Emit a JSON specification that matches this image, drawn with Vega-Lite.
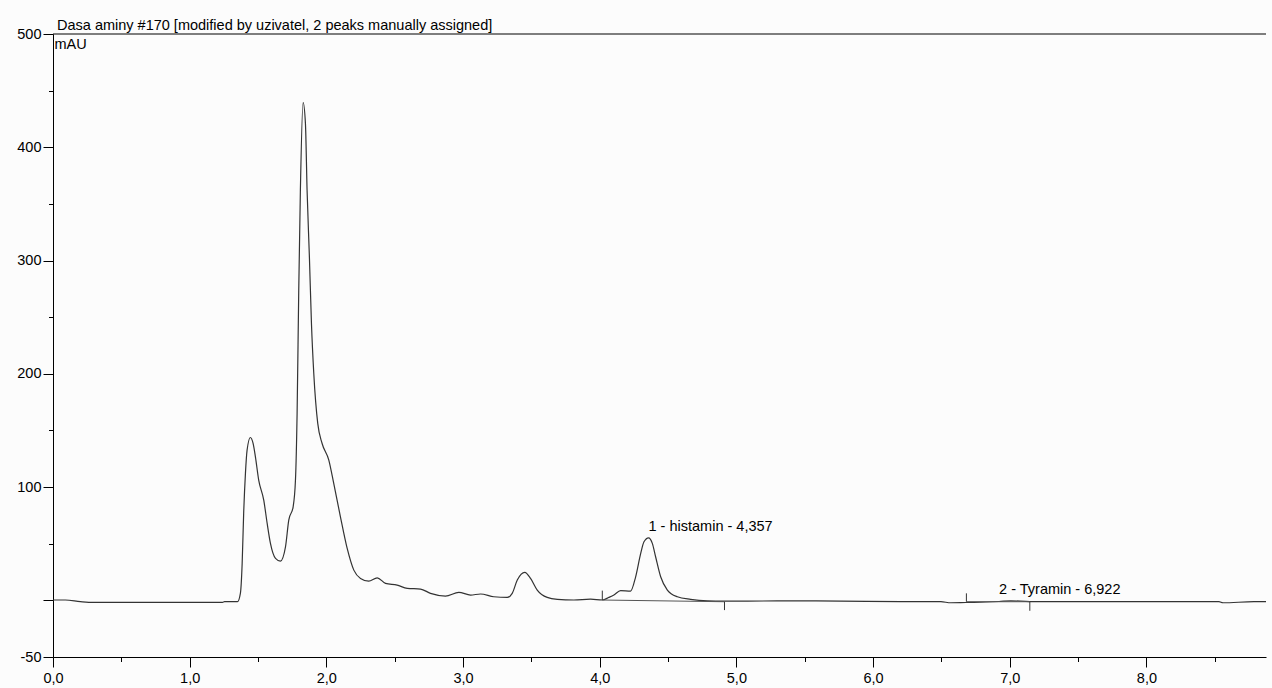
{
  "$schema": "https://vega.github.io/schema/vega-lite/v6.json",
  "width": 1213,
  "height": 623,
  "autosize": {"type": "none"},
  "padding": {"left": 53, "top": 34, "right": 6, "bottom": 31},
  "background": "#fcfcfc",
  "title": {
    "text": "Dasa aminy #170 [modified by uzivatel, 2 peaks manually assigned]",
    "anchor": "start",
    "frame": "group",
    "dx": 4,
    "offset": -18,
    "baseline": "alphabetic",
    "font": "Liberation Sans",
    "fontSize": 14.5,
    "fontWeight": "normal",
    "color": "#000000"
  },
  "config": {
    "view": {"stroke": null},
    "font": "Liberation Sans",
    "axis": {
      "grid": false,
      "domainColor": "#000000",
      "tickColor": "#000000",
      "labelColor": "#000000",
      "labelFont": "Liberation Sans",
      "labelFontSize": 14.5,
      "labelOverlap": false,
      "labelFlush": false
    }
  },
  "datasets": {
    "trace": [
      {"t": 0.0, "v": 0.3}, {"t": 0.09, "v": 0.3}, {"t": 0.2, "v": -1.1}, {"t": 0.295, "v": -1.8},
      {"t": 0.71, "v": -1.8}, {"t": 1.24, "v": -1.8}, {"t": 1.255, "v": -1.2}, {"t": 1.35, "v": -1.2},
      {"t": 1.371, "v": 6.2}, {"t": 1.384, "v": 32.6}, {"t": 1.395, "v": 76.8}, {"t": 1.408, "v": 112.1},
      {"t": 1.42, "v": 132.6}, {"t": 1.444, "v": 143.8}, {"t": 1.464, "v": 138.5}, {"t": 1.481, "v": 126.7},
      {"t": 1.505, "v": 106.2}, {"t": 1.542, "v": 88.5}, {"t": 1.567, "v": 67.9}, {"t": 1.591, "v": 50.3},
      {"t": 1.628, "v": 37.1}, {"t": 1.664, "v": 34.7}, {"t": 1.701, "v": 47.3}, {"t": 1.725, "v": 70.9},
      {"t": 1.757, "v": 82.6}, {"t": 1.774, "v": 106.2}, {"t": 1.786, "v": 165.0}, {"t": 1.798, "v": 273.8},
      {"t": 1.81, "v": 362.0}, {"t": 1.83, "v": 439.5}, {"t": 1.847, "v": 420.9}, {"t": 1.859, "v": 362.0},
      {"t": 1.876, "v": 303.2}, {"t": 1.891, "v": 244.4}, {"t": 1.908, "v": 200.3}, {"t": 1.937, "v": 156.2},
      {"t": 1.969, "v": 138.5}, {"t": 2.018, "v": 123.8}, {"t": 2.054, "v": 103.2}, {"t": 2.103, "v": 73.8},
      {"t": 2.152, "v": 46.1}, {"t": 2.201, "v": 26.7}, {"t": 2.25, "v": 19.4}, {"t": 2.31, "v": 17.0},
      {"t": 2.372, "v": 19.9}, {"t": 2.433, "v": 15.0}, {"t": 2.518, "v": 13.5}, {"t": 2.592, "v": 10.6},
      {"t": 2.689, "v": 10.0}, {"t": 2.762, "v": 6.2}, {"t": 2.872, "v": 3.8}, {"t": 2.969, "v": 7.1},
      {"t": 3.055, "v": 4.7}, {"t": 3.128, "v": 5.6}, {"t": 3.225, "v": 3.2}, {"t": 3.324, "v": 2.6},
      {"t": 3.36, "v": 6.2}, {"t": 3.397, "v": 17.9}, {"t": 3.452, "v": 24.7}, {"t": 3.494, "v": 19.4},
      {"t": 3.543, "v": 9.1}, {"t": 3.616, "v": 2.6}, {"t": 3.69, "v": 0.9}, {"t": 3.811, "v": 0.3},
      {"t": 3.933, "v": 1.1}, {"t": 4.019, "v": 0.3}, {"t": 4.067, "v": 2.6}, {"t": 4.104, "v": 4.7},
      {"t": 4.153, "v": 8.6}, {"t": 4.226, "v": 8.2}, {"t": 4.263, "v": 20.8}, {"t": 4.3, "v": 41.5},
      {"t": 4.324, "v": 51.7}, {"t": 4.357, "v": 55.2}, {"t": 4.385, "v": 50.3}, {"t": 4.409, "v": 38.5},
      {"t": 4.446, "v": 20.8}, {"t": 4.495, "v": 9.1}, {"t": 4.568, "v": 3.2}, {"t": 4.665, "v": 0.9},
      {"t": 4.788, "v": -0.4}, {"t": 4.909, "v": -0.6}, {"t": 5.081, "v": -0.6}, {"t": 5.52, "v": -0.4},
      {"t": 5.763, "v": -0.6}, {"t": 6.203, "v": -1.1}, {"t": 6.496, "v": -1.2}, {"t": 6.569, "v": -2.1},
      {"t": 6.679, "v": -1.9}, {"t": 6.739, "v": -1.8}, {"t": 6.922, "v": -1.0}, {"t": 7.008, "v": -0.4},
      {"t": 7.147, "v": -1.1}, {"t": 7.667, "v": -1.2}, {"t": 8.531, "v": -1.2}, {"t": 8.56, "v": -2.1},
      {"t": 8.787, "v": -1.2}, {"t": 8.875, "v": -1.2}
    ],
    "baselines": [
      {"seg": 1, "t": 4.019, "v": 0.3}, {"seg": 1, "t": 4.913, "v": -1.2},
      {"seg": 2, "t": 6.683, "v": -1.2}, {"seg": 2, "t": 7.147, "v": -1.2}
    ],
    "delimiters": [
      {"t": 4.019, "lo": 0.3, "hi": 8.6},
      {"t": 4.913, "lo": -1.2, "hi": -8.6},
      {"t": 6.683, "lo": -1.2, "hi": 6.2},
      {"t": 7.147, "lo": -1.2, "hi": -9.2}
    ],
    "peaks": [
      {"t": 4.357, "v": 55.2, "label": "1 - histamin - 4,357"},
      {"t": 6.922, "v": -1.0, "label": "2 - Tyramin - 6,922"}
    ]
  },
  "layer": [
    {
      "data": {"name": "trace"},
      "mark": {"type": "line", "interpolate": "monotone", "stroke": "#333333", "strokeWidth": 1.2},
      "encoding": {
        "x": {
          "field": "t",
          "type": "quantitative",
          "scale": {"domain": [0, 8.875], "nice": false, "zero": false},
          "axis": {
            "title": null,
            "values": [0, 0.25, 0.5, 0.75, 1, 1.25, 1.5, 1.75, 2, 2.25, 2.5, 2.75, 3, 3.25, 3.5, 3.75, 4, 4.25, 4.5, 4.75, 5, 5.25, 5.5, 5.75, 6, 6.25, 6.5, 6.75, 7, 7.25, 7.5, 7.75, 8, 8.25, 8.5, 8.75],
            "labelExpr": "datum.value % 1 === 0 ? replace(format(datum.value, '.1f'), '.', ',') : ''",
            "tickSize": {"condition": {"test": "datum.value % 1 === 0", "value": 10}, "value": 4.5},
            "labelPadding": 4
          }
        },
        "y": {
          "field": "v",
          "type": "quantitative",
          "scale": {"domain": [-50, 500], "nice": false, "zero": false},
          "axis": {
            "title": "mAU",
            "titleAngle": 0,
            "titleX": 1,
            "titleY": 10,
            "titleAlign": "left",
            "titleBaseline": "middle",
            "titleFont": "Liberation Sans",
            "titleFontSize": 14.5,
            "titleFontWeight": "normal",
            "titleColor": "#000000",
            "values": [-50, -25, 0, 25, 50, 75, 100, 125, 150, 175, 200, 225, 250, 275, 300, 325, 350, 375, 400, 425, 450, 475, 500],
            "labelExpr": "(datum.value === 0 || (datum.value % 100 !== 0 && datum.value !== -50)) ? '' : '' + datum.value",
            "tickSize": {"condition": {"test": "datum.value % 100 === 0 || datum.value === -50", "value": 10}, "value": 4.5},
            "labelPadding": 2
          }
        }
      }
    },
    {
      "data": {"name": "baselines"},
      "mark": {"type": "line", "stroke": "#555555", "strokeWidth": 1},
      "encoding": {
        "x": {"field": "t", "type": "quantitative"},
        "y": {"field": "v", "type": "quantitative"},
        "detail": {"field": "seg"}
      }
    },
    {
      "data": {"name": "delimiters"},
      "mark": {"type": "rule", "stroke": "#333333", "strokeWidth": 1},
      "encoding": {
        "x": {"field": "t", "type": "quantitative"},
        "y": {"field": "lo", "type": "quantitative"},
        "y2": {"field": "hi"}
      }
    },
    {
      "data": {"name": "peaks"},
      "mark": {"type": "text", "align": "left", "baseline": "alphabetic", "dy": -7, "font": "Liberation Sans", "fontSize": 14.5, "color": "#000000"},
      "encoding": {
        "x": {"field": "t", "type": "quantitative"},
        "y": {"field": "v", "type": "quantitative"},
        "text": {"field": "label"}
      }
    },
    {
      "data": {"values": [{"top": 500}]},
      "mark": {"type": "rule", "stroke": "#000000", "strokeWidth": 1},
      "encoding": {
        "y": {"field": "top", "type": "quantitative"}
      }
    }
  ]
}
